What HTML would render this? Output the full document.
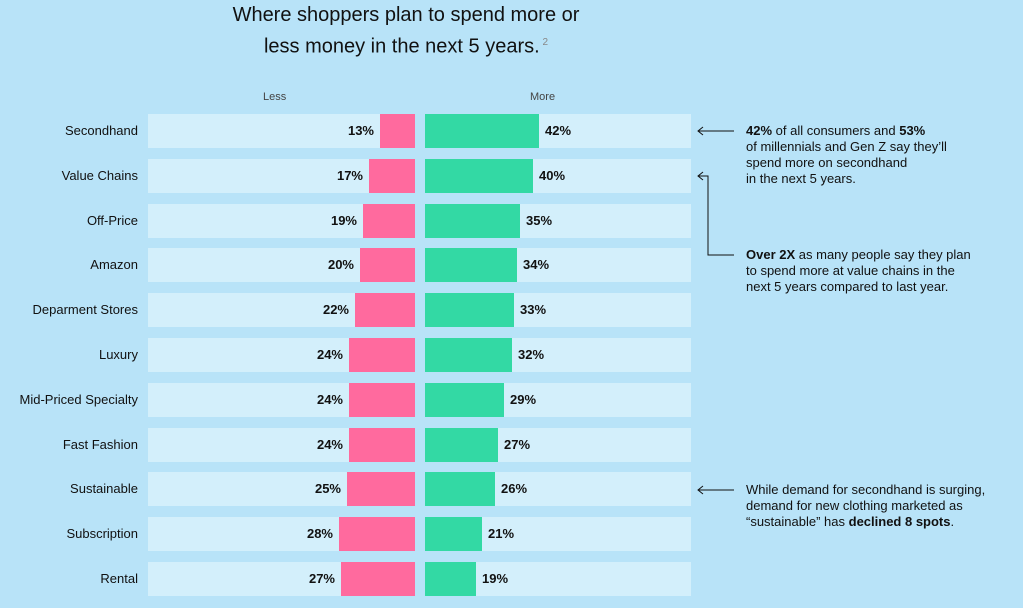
<!DOCTYPE html><html><head><style>
body{margin:0;width:1023px;height:608px;background:#b8e3f8;font-family:"Liberation Sans",sans-serif;position:relative;overflow:hidden;color:#111}
.a{position:absolute}
.t{position:absolute;left:0;width:812px;text-align:center;font-size:20px;line-height:28px;color:#111}
.lab{position:absolute;right:885px;font-size:13px;text-align:right;white-space:nowrap}
.band{position:absolute;height:34px;background:#d3effb}
.p{position:absolute;height:34px;background:#ff6a9e}
.g{position:absolute;height:34px;background:#33d9a4}
.v{position:absolute;font-size:13px;font-weight:bold}
.n{position:absolute;left:746px;font-size:13px;line-height:16px;color:#111}
</style></head><body>
<div class="t" style="top:1px">Where shoppers plan to spend more or</div>
<div class="t" style="top:29px">less money in the next 5 years.<sup style="font-size:10px;color:#888"> 2</sup></div>
<div class="a" style="left:263px;top:91px;font-size:11px;color:#444">Less</div>
<div class="a" style="left:530px;top:91px;font-size:11px;color:#444">More</div>
<div id="rows"></div>
<svg class="a" style="left:0;top:0" width="1023" height="608">
<g stroke="#111" stroke-width="1" fill="none">
<path d="M698 131H734M703 127L698 131L703 135"/>
<path d="M698 176H708V255H734M703 172L698 176L703 180"/>
<path d="M698 490H734M703 486L698 490L703 494"/>
</g></svg>
<div class="n" style="top:123px"><b>42%</b> of all consumers and <b>53%</b><br>of millennials and Gen Z say they’ll<br>spend more on secondhand<br>in the next 5 years.</div>
<div class="n" style="top:247px"><b>Over 2X</b> as many people say they plan<br>to spend more at value chains in the<br>next 5 years compared to last year.</div>
<div class="n" style="top:482px">While demand for secondhand is surging,<br>demand for new clothing marketed as<br>“sustainable” has <b>declined 8 spots</b>.</div>
<script>
var d=[["Secondhand",13,42],["Value Chains",17,40],["Off-Price",19,35],["Amazon",20,34],["Deparment Stores",22,33],["Luxury",24,32],["Mid-Priced Specialty",24,29],["Fast Fashion",24,27],["Sustainable",25,26],["Subscription",28,21],["Rental",27,19]];
var h="";d.forEach(function(r,i){var y=Math.round(114+i*44.8),c=y+17;
var pw=Math.round(r[1]*2.73),gw=Math.round(r[2]*2.71);
h+='<div class="band" style="left:148px;width:267px;top:'+y+'px"></div>';
h+='<div class="band" style="left:425px;width:266px;top:'+y+'px"></div>';
h+='<div class="p" style="left:'+(415-pw)+'px;width:'+pw+'px;top:'+y+'px"></div>';
h+='<div class="g" style="left:425px;width:'+gw+'px;top:'+y+'px"></div>';
h+='<div class="lab" style="top:'+(c-8)+'px">'+r[0]+'</div>';
h+='<div class="v" style="right:'+(1023-(415-pw-6))+'px;top:'+(c-8)+'px">'+r[1]+'%</div>';
h+='<div class="v" style="left:'+(425+gw+6)+'px;top:'+(c-8)+'px">'+r[2]+'%</div>';});
document.getElementById("rows").innerHTML=h;
</script>
</body></html>
